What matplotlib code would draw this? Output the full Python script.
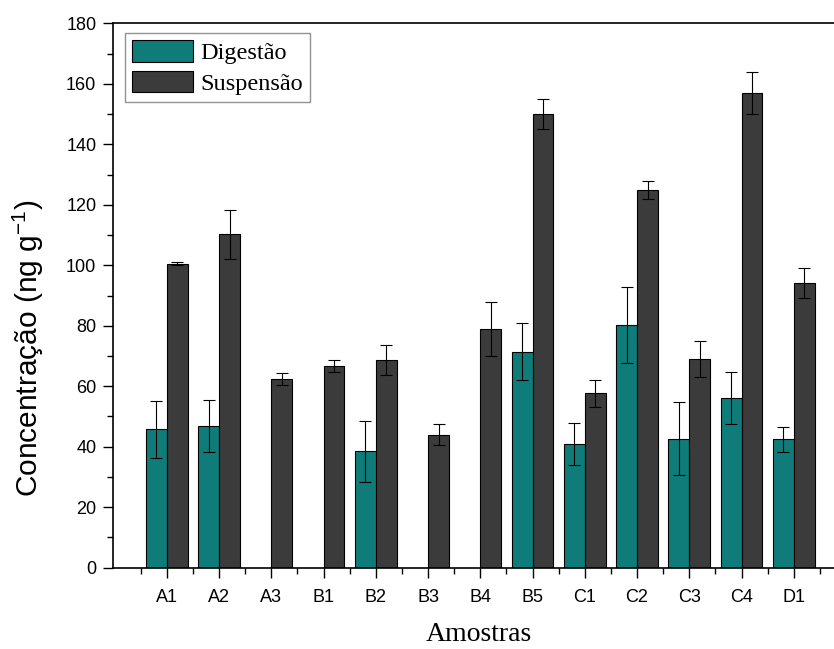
import numpy as np
import matplotlib
matplotlib.use("Agg")
import matplotlib.pyplot as plt
from matplotlib.ticker import MultipleLocator

categories = ["A1", "A2", "A3", "B1", "B2", "B3", "B4", "B5", "C1", "C2", "C3", "C4", "D1"]
digestao = [45.7, 46.8, 0, 0, 38.5, 0, 0, 71.4, 41.0, 80.2, 42.7, 56.1, 42.4]
digestao_err = [9.5, 8.5, 0, 0, 10.0, 0, 0, 9.5, 7.0, 12.5, 12.0, 8.7, 4.0]
suspensao = [100.5, 110.2, 62.5, 66.6, 68.6, 44.0, 79.0, 149.9, 57.6, 124.8, 69.0, 157.0, 94.2]
suspensao_err = [0.5, 8.0, 2.0, 2.0, 5.0, 3.5, 9.0, 5.0, 4.5, 3.0, 6.0, 7.0, 5.0]

teal = "#0f7c79"
dark = "#3b3b3b"

fig = plt.figure(figsize=(8.34, 6.49), dpi=100)
ax = fig.add_axes([113/834, 1-567.7/649, (845-113)/834, (567.7-23.3)/649])

x = np.arange(len(categories))
w = 0.4
dmask = np.array(digestao) > 0
ax.bar(x[dmask], np.array(digestao)[dmask], width=-w, align="edge", color=teal,
       edgecolor="black", linewidth=0.8, label="Digestão", zorder=2)
ax.bar(x, suspensao, width=w, align="edge", color=dark,
       edgecolor="black", linewidth=0.8, label="Suspensão", zorder=2)
ax.errorbar(x[dmask] - w/2, np.array(digestao)[dmask], yerr=np.array(digestao_err)[dmask],
            fmt="none", ecolor="black", elinewidth=0.8, capsize=4, capthick=0.8, zorder=3)
ax.errorbar(x + w/2, suspensao, yerr=suspensao_err,
            fmt="none", ecolor="black", elinewidth=0.8, capsize=4, capthick=0.8, zorder=3)

ax.set_xlim(-1.03, 12.98)
ax.set_ylim(0, 180)
ax.set_xticks(x)
ax.set_xticklabels(categories, family="Liberation Sans", fontsize=13)
ax.set_xticks(np.append(x - 0.5, 12.5), minor=True)
ax.yaxis.set_major_locator(MultipleLocator(20))
ax.yaxis.set_minor_locator(MultipleLocator(10))
for lbl in ax.get_yticklabels():
    lbl.set_family("Liberation Sans")
    lbl.set_fontsize(13)
ax.tick_params(axis="both", which="major", direction="out", length=7, width=1.0, pad=5)
ax.tick_params(axis="both", which="minor", direction="out", length=4, width=1.0)
ax.tick_params(axis="x", which="major", pad=8)
for s in ax.spines.values():
    s.set_linewidth(1.2)
ax.spines["right"].set_visible(False)

ax.set_xlabel("Amostras", family="Liberation Serif", fontsize=20, labelpad=12)
fig.text(28/834, 1-(190+507)/2/649, "Concentração (ng g$^{\\mathregular{-1}}$)",
         family="Liberation Sans", fontsize=21.5, rotation=90, ha="center", va="center")

leg = ax.legend(loc="upper left", bbox_to_anchor=((125-113)/(845-113), 1-(33-23.3)/544.4),
                prop={"family": "Liberation Serif", "size": 17.5}, frameon=True, fancybox=False,
                edgecolor="#777777", handlelength=2.5, handleheight=1.0, borderpad=0.3,
                labelspacing=0.25, handletextpad=0.3, borderaxespad=0)
leg.get_frame().set_linewidth(1.0)

fig.savefig("out.png", dpi=100)
